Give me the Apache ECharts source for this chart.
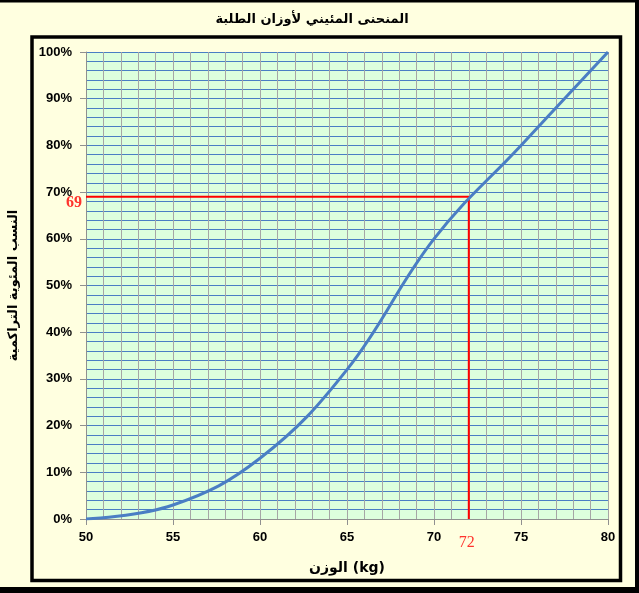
<!DOCTYPE html>
<html>
<head>
<meta charset="utf-8">
<script src="https://cdn.jsdelivr.net/npm/echarts@6/dist/echarts.min.js"></script>
<style>
html,body{margin:0;padding:0;background:#FFFFE0;}
#c{width:639px;height:593px;}
</style>
</head>
<body>
<div id="c"></div>
<script>
// Data
var weights = [50, 55, 60, 65, 70, 75, 80];
var cumPercent = [0, 3, 13, 32, 60, 80, 100];
var guideLine = [[50, 69], [72, 69], [72, 0]];
var guideLabels = [[50, 69], [72, 0]];
var titleText = 'المنحنى المئيني لأوزان الطلبة';
var xName = 'الوزن (kg)';
var yName = 'النسب المئوية التراكمية';

var chart = echarts.init(document.getElementById('c'));
var arabicFont = 'DejaVu Sans';
var tickFont = 'Liberation Sans';

var option = {
  backgroundColor: '#FFFFE0',
  animation: false,
  grid: {
    left: 86, right: 31, top: 52, bottom: 74,
    outerBoundsMode: 'none', containLabel: false,
    show: true, backgroundColor: '#DDFFDD', borderWidth: 0
  },
  xAxis: [
    {
      type: 'value', min: 50, max: 80, interval: 1, position: 'bottom',
      axisLine: {show: false}, axisTick: {show: false}, axisLabel: {show: false},
      splitLine: {show: true, lineStyle: {color: '#A6A6A6', width: 1}}
    },
    {
      type: 'value', min: 50, max: 80, interval: 5, position: 'bottom', offset: 0,
      name: xName, nameLocation: 'middle', nameGap: 42,
      nameTextStyle: {fontFamily: arabicFont, fontWeight: 'bold', fontSize: 14, color: '#000'},
      axisLine: {show: true, lineStyle: {color: '#909090', width: 1}},
      axisTick: {show: true, length: 6, lineStyle: {color: '#909090'}},
      axisLabel: {fontFamily: tickFont, fontWeight: 'bold', fontSize: 13, color: '#000', margin: 12},
      splitLine: {show: false}
    }
  ],
  yAxis: [
    {
      type: 'value', min: 0, max: 100, interval: 2, position: 'left',
      axisLine: {show: false}, axisTick: {show: false}, axisLabel: {show: false},
      splitLine: {show: true, lineStyle: {color: '#4A7EC4', width: 1}}
    },
    {
      type: 'value', min: 0, max: 100, interval: 10, position: 'left', offset: 0,
      name: yName, nameLocation: 'middle', nameGap: 66, nameRotate: 90,
      nameTextStyle: {fontFamily: arabicFont, fontWeight: 'bold', fontSize: 13, color: '#000'},
      axisLine: {show: true, lineStyle: {color: '#909090', width: 1}},
      axisTick: {show: true, length: 6, lineStyle: {color: '#909090'}},
      axisLabel: {fontFamily: tickFont, fontWeight: 'bold', fontSize: 13, color: '#000', margin: 14,
        formatter: function (v) { return v + '%'; }},
      splitLine: {show: false}
    }
  ],
  series: [
    {
      type: 'line', data: guideLine, symbol: 'none', z: 3,
      lineStyle: {color: '#FF0000', width: 2}
    },
    {
      type: 'line', data: weights.map(function (w, i) { return [w, cumPercent[i]]; }),
      smooth: 0.4, symbol: 'none', z: 4,
      lineStyle: {color: '#4A7EC4', width: 3}
    },
    {
      type: 'scatter', symbolSize: 0, z: 5, silent: true,
      data: [
        {value: guideLabels[0], label: {show: true, position: 'left', distance: 4, offset: [0, 6],
          formatter: function (p) { return p.value[1]; },
          fontFamily: 'Liberation Serif', fontWeight: 'bold', fontSize: 16, color: '#FF0000'}},
        {value: guideLabels[1], label: {show: true, position: 'bottom', distance: 16, offset: [-2, 0],
          formatter: function (p) { return p.value[0]; },
          fontFamily: 'Liberation Serif', fontSize: 16, color: '#FF0000'}}
      ]
    }
  ],
  graphic: [
    {type: 'text', x: 312, y: 20, style: {text: titleText, align: 'center', verticalAlign: 'middle',
      font: 'bold 13px "DejaVu Sans"', fill: '#000'}},
    {type: 'rect', shape: {x: 32, y: 37, width: 588.5, height: 543.5},
      style: {fill: null, stroke: '#000', lineWidth: 3.5}},
    {type: 'rect', shape: {x: 0, y: 0, width: 639, height: 2.5}, style: {fill: '#000'}},
    {type: 'rect', shape: {x: 635, y: 0, width: 4, height: 593}, style: {fill: '#000'}},
    {type: 'rect', shape: {x: 0, y: 587, width: 639, height: 6}, style: {fill: '#000'}}
  ]
};
chart.setOption(option);
</script>
</body>
</html>
